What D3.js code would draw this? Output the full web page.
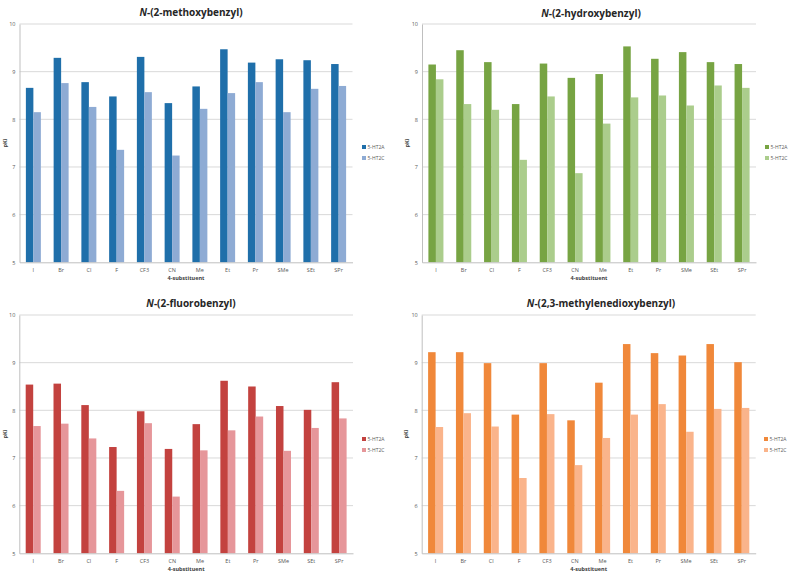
<!DOCTYPE html>
<html><head><meta charset="utf-8">
<script src="https://cdn.jsdelivr.net/npm/d3@7"></script>
<style>body{margin:0;background:#fff}svg{display:block}</style>
</head><body>
<svg id="c" width="788" height="572"></svg>
<script>
const categories = ["I","Br","Cl","F","CF3","CN","Me","Et","Pr","SMe","SEt","SPr"];
const seriesNames = ["5-HT2A","5-HT2C"];
const yTicks = [5,6,7,8,9,10];
const titles = ["2-methoxybenzyl","2-hydroxybenzyl","2-fluorobenzyl","2,3-methylenedioxybenzyl"];

const methoxy2A = [8.66,9.29,8.78,8.48,9.31,8.34,8.69,9.47,9.19,9.26,9.24,9.16];
const methoxy2C = [8.15,8.76,8.26,7.36,8.57,7.24,8.22,8.55,8.78,8.15,8.64,8.70];
const hydroxy2A = [9.15,9.45,9.20,8.32,9.17,8.87,8.95,9.53,9.27,9.41,9.20,9.16];
const hydroxy2C = [8.84,8.32,8.20,7.15,8.48,6.87,7.91,8.46,8.50,8.29,8.71,8.66];
const fluoro2A  = [8.54,8.56,8.11,7.23,7.98,7.19,7.71,8.62,8.50,8.09,8.01,8.59];
const fluoro2C  = [7.67,7.72,7.41,6.31,7.73,6.19,7.16,7.58,7.87,7.15,7.63,7.83];
const mdo2A     = [9.22,9.22,8.99,7.91,8.99,7.79,8.58,9.39,9.20,9.15,9.39,9.01];
const mdo2C     = [7.65,7.94,7.66,6.58,7.92,6.85,7.42,7.91,8.13,7.55,8.03,8.05];

const panels = [
  {title:titles[0], a:methoxy2A, c:methoxy2C, colors:["#1f6faa","#8eabd4"],
   left:19.5, right:352.5, top:24, bottom:262.3, titleX:191, titleY:16, legX:362, legY:147, yLabX:5},
  {title:titles[1], a:hydroxy2A, c:hydroxy2C, colors:["#77a443","#abcd8c"],
   left:422, right:756, top:24, bottom:262.3, titleX:591, titleY:17, legX:765, legY:147, yLabX:407},
  {title:titles[2], a:fluoro2A, c:fluoro2C, colors:["#c3423f","#e6969a"],
   left:19.3, right:353, top:315, bottom:553.3, titleX:191, titleY:306.5, legX:362, legY:439, yLabX:5},
  {title:titles[3], a:mdo2A, c:mdo2C, colors:["#f0883a","#fab48b"],
   left:421.7, right:755.7, top:315, bottom:553.3, titleX:601, titleY:306.5, legX:764, legY:439, yLabX:406}
];

const svg = d3.select("#c");
const FONT = "'Open Sans', 'Liberation Sans', sans-serif";

panels.forEach(p => {
  const g = svg.append("g");
  const y = d3.scaleLinear().domain([5,10]).range([p.bottom, p.top]);
  const x0 = d3.scaleBand().domain(categories).range([p.left, p.right]).paddingInner(0.46).paddingOuter(0.23);
  const x1 = d3.scaleBand().domain(seriesNames).range([0, x0.bandwidth()]);

  // gridlines
  g.append("g").selectAll("line").data(yTicks.filter(t => t > 5)).join("line")
    .attr("x1", p.left).attr("x2", p.right)
    .attr("y1", d => y(d)).attr("y2", d => y(d))
    .attr("stroke", "#d9d9d9").attr("stroke-width", 1);

  // bars
  const rows = categories.map((cat, i) => ({cat, vals:[p.a[i], p.c[i]]}));
  const grp = g.append("g").selectAll("g").data(rows).join("g")
    .attr("transform", d => `translate(${x0(d.cat)},0)`);
  grp.selectAll("rect").data(d => d.vals.map((v, k) => ({k, v}))).join("rect")
    .attr("x", d => x1(seriesNames[d.k]))
    .attr("width", x1.bandwidth())
    .attr("y", d => y(d.v))
    .attr("height", d => y(5) - y(d.v))
    .attr("fill", d => p.colors[d.k]);

  // y axis
  const ya = g.append("g").attr("transform", `translate(${p.left},0)`)
    .call(d3.axisLeft(y).tickValues(yTicks).tickFormat(d3.format("d")).tickSize(0).tickPadding(4));
  ya.select(".domain").attr("stroke", "#bfbfbf");
  ya.selectAll("text").attr("font-family", FONT).attr("font-size", 5.5).attr("fill", "#595959");

  // x axis
  const xa = g.append("g").attr("transform", `translate(0,${p.bottom})`)
    .call(d3.axisBottom(x0).tickSize(0).tickPadding(6));
  xa.select(".domain").attr("stroke", "#bfbfbf");
  xa.selectAll("text").attr("font-family", FONT).attr("font-size", 5.5).attr("fill", "#595959");

  // axis titles
  g.append("text").attr("x", (p.left + p.right) / 2).attr("y", p.bottom + 17.5)
    .attr("text-anchor", "middle").attr("font-family", FONT).attr("font-size", 5.5)
    .attr("font-weight", "bold").attr("fill", "#404040").text("4-substituent");
  g.append("text").attr("transform", `translate(${p.yLabX},${(p.top + p.bottom) / 2}) rotate(-90)`)
    .attr("text-anchor", "middle").attr("dy", "0.35em").attr("font-family", FONT).attr("font-size", 5.5)
    .attr("font-weight", "bold").attr("fill", "#404040").text("pKi");

  // title
  const t = g.append("text").attr("x", p.titleX).attr("y", p.titleY).attr("text-anchor", "middle")
    .attr("font-family", FONT).attr("font-size", 10).attr("font-weight", "bold").attr("fill", "#262626");
  t.append("tspan").attr("font-style", "italic").text("N");
  t.append("tspan").text("-(" + p.title + ")");

  // legend
  const lg = g.append("g").attr("transform", `translate(${p.legX},${p.legY})`);
  seriesNames.forEach((s, k) => {
    lg.append("rect").attr("x", 0).attr("y", k * 11 - 2).attr("width", 4).attr("height", 4).attr("fill", p.colors[k]);
    lg.append("text").attr("x", 5.5).attr("y", k * 11).attr("dy", "0.35em")
      .attr("font-family", FONT).attr("font-size", 5).attr("fill", "#595959").text(s);
  });
});
</script>
</body></html>
